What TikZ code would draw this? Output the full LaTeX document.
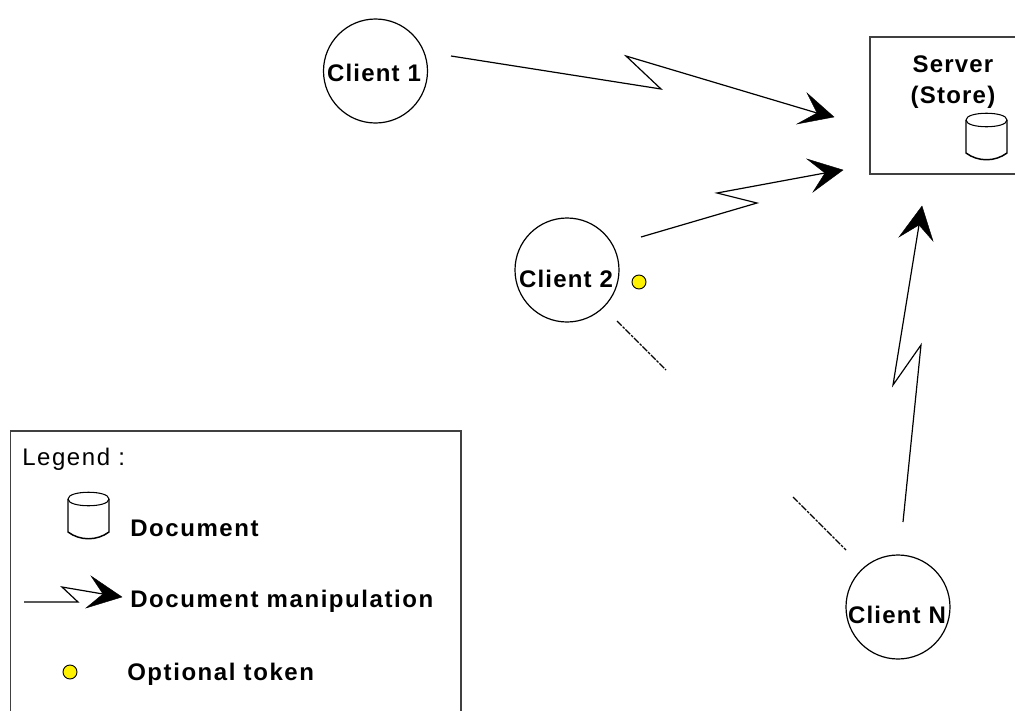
\documentclass[tikz,border=0pt]{standalone}
\usepackage{fontspec}
\setmainfont{Liberation Sans}
\newfontfamily\lblfont[LetterSpace=6.5]{Liberation Sans}
\newfontfamily\lblbold[LetterSpace=5]{Liberation Sans Bold}
\newfontfamily\lblboldw[LetterSpace=6.5]{Liberation Sans Bold}
\tikzset{
  x=0.75pt,y=-0.75pt,
  linkline/.style={draw=black,line width=0.9pt,line join=miter},
  headfill/.style={fill=black,draw=black,line width=0.3pt},
  client/.style={circle,draw=black,line width=0.9pt,minimum size=78pt,inner sep=0pt},
  clienttext/.style={anchor=base,inner sep=0pt,font=\lblbold\fontsize{18}{20}\selectfont},
  boxline/.style={draw=black!75,line width=0.8pt},
  lab/.style={anchor=base west,inner sep=0pt,font=\lblboldw\fontsize{18}{20}\selectfont},
  token/.style={circle,draw=black,fill=yellow,line width=0.7pt,minimum size=10.5pt,inner sep=0pt},
  dashlink/.style={draw=black,line width=0.8pt,dash pattern=on 5pt off 1pt on 2pt off 1pt},
  doc/.pic={
    \draw[line width=0.8pt] (0,7) .. controls (0,-2) and (41,-2) .. (41,7) .. controls (41,16) and (0,16) .. (0,7);
    \draw[line width=1.1pt] (0,7) -- (0,40) .. controls (12,49) and (29,49) .. (41,40) -- (41,7);
  }
}
\begin{document}
\begin{tikzpicture}
\useasboundingbox (0,0) rectangle (1015,711);
\fill[white] (0,0) rectangle (1015,711);

% Server
\draw[boxline] (1015,37) -- (870,37) -- (870,174) -- (1015,174);
\node[clienttext] (srv1) at (953,72) {Server};
\node[clienttext] (srv2) at (953,103) {(Store)};
\pic at (966,113) {doc};

% Clients
\node[client] (c1) at (375.5,71) {};
\node[clienttext] (c1t) at (374,81) {Client 1};
\node[client] (c2) at (567,270) {};
\node[clienttext] (c2t) at (566,287) {Client 2};
\node[client] (cn) at (898,607) {};
\node[clienttext] (cnt) at (897,623) {Client N};
\node[token] (tk) at (639,282) {};

% Link end points
\coordinate (a1s) at (451,56);
\coordinate (a1t) at (834,117);
\coordinate (a2s) at (641,237);
\coordinate (a2t) at (843,170);
\coordinate (a3s) at (903,522);
\coordinate (a3t) at (922,206);
\coordinate (las) at (24,602);
\coordinate (lat) at (122,597);

% Link 1
\draw[linkline] (a1s) -- (661,89) -- (626,56) -- (817,113);
\fill[headfill] (a1t) -- (807,93) -- (817,113) -- (797,124) -- cycle;
% Link 2
\draw[linkline] (a2s) -- (757,203) -- (717,193) -- (825,173);
\fill[headfill] (a2t) -- (807,159) -- (825,173) -- (813,192) -- cycle;
% Link 3
\draw[linkline] (a3s) -- (921,345) -- (893,385) -- (919,225);
\fill[headfill] (a3t) -- (899,237) -- (919,225) -- (933,241) -- cycle;

% Dashed continuation
\coordinate (d1s) at (617,321);
\coordinate (d1e) at (666,370);
\coordinate (d2s) at (793,497);
\coordinate (d2e) at (846,550);
\draw[dashlink] (d1s) -- (d1e);
\draw[dashlink] (d2s) -- (d2e);

% Legend
\draw[boxline] (10.5,711) -- (10.5,431) -- (461,431) -- (461,711);
\node[anchor=base west,inner sep=0pt,font=\lblfont\fontsize{18}{20}\selectfont] (lg) at (22,465) {Legend :};
\pic at (68,492) {doc};
\node[lab] (l1) at (130,536) {Document};
\draw[linkline] (las) -- (78,602) -- (62,587) -- (103,594);
\fill[headfill] (lat) -- (91,576) -- (103,594) -- (86,608) -- cycle;
\node[lab] (l2) at (130,607) {Document manipulation};
\node[token] (lt) at (70,672) {};
\node[lab] (l3) at (127,680) {Optional token};
\end{tikzpicture}
\end{document}
